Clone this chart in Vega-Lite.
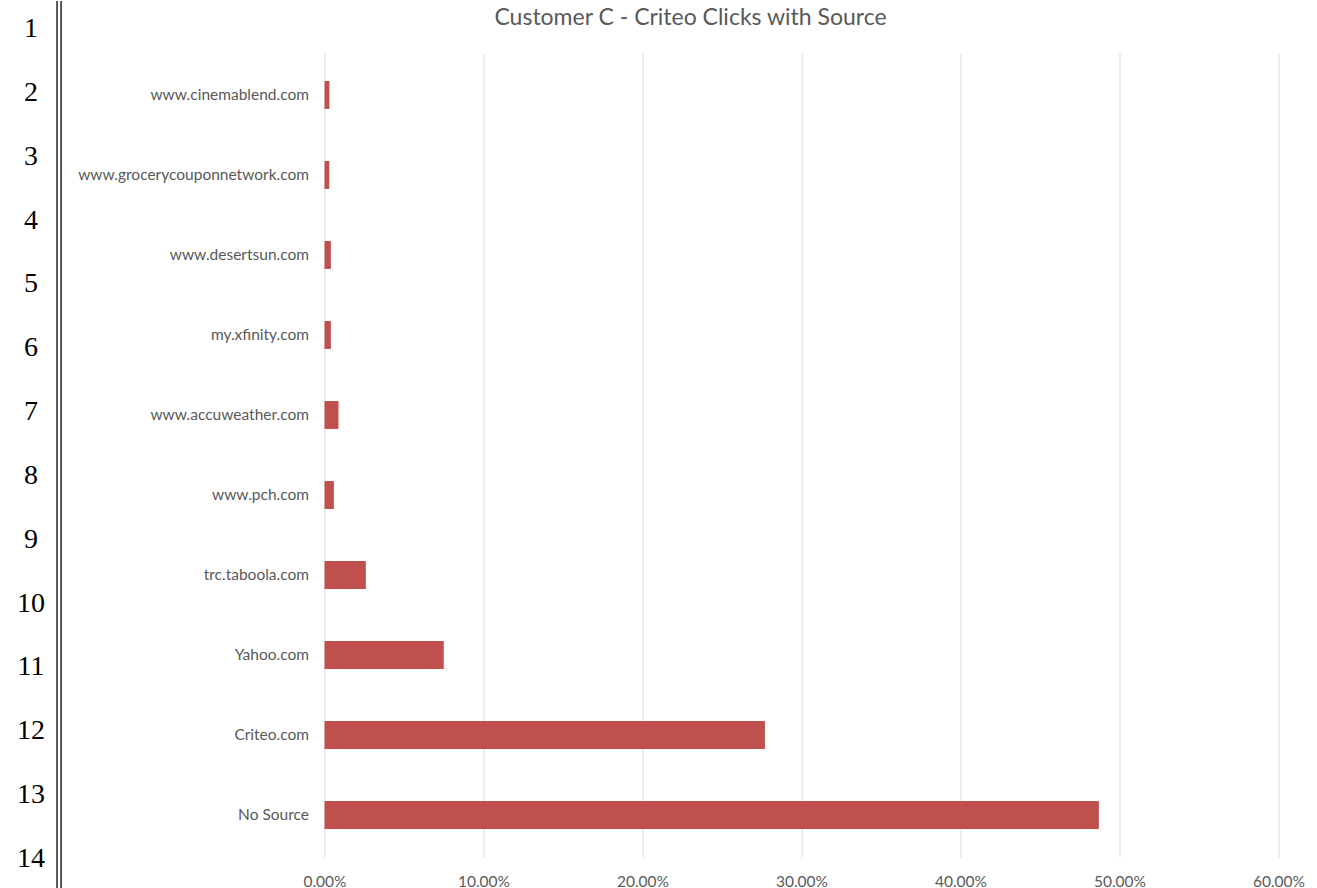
{
  "$schema": "https://vega.github.io/schema/vega-lite/v6.json",
  "padding": 0,
  "background": "white",
  "spacing": 262.5,
  "bounds": "flush",
  "config": {"view": {"stroke": null}, "font": "Lato"},
  "hconcat": [
    {
      "width": 62,
      "height": 804,
      "layer": [
        {
          "data": {"values": [{"row": 1}, {"row": 2}, {"row": 3}, {"row": 4}, {"row": 5}, {"row": 6}, {"row": 7}, {"row": 8}, {"row": 9}, {"row": 10}, {"row": 11}, {"row": 12}, {"row": 13}, {"row": 14}]},
          "mark": {"type": "text", "font": "Liberation Serif", "fontSize": 28, "color": "black", "baseline": "middle", "align": "center"},
          "encoding": {
            "y": {"field": "row", "type": "quantitative", "scale": {"domain": [1.376, 13.968], "reverse": true, "nice": false, "zero": false}, "axis": null},
            "text": {"field": "row", "type": "nominal"}
          }
        },
        {
          "data": {"values": [{}]},
          "mark": {"type": "rule", "color": "black", "strokeWidth": 1.3},
          "encoding": {
            "x": {"datum": 0.92, "type": "quantitative", "scale": {"domain": [0, 1], "nice": false, "zero": false}, "axis": null},
            "y": {"datum": 0.5615, "type": "quantitative"},
            "y2": {"datum": 14.469}
          }
        },
        {
          "data": {"values": [{}]},
          "mark": {"type": "rule", "color": "black", "strokeWidth": 1.3},
          "encoding": {
            "x": {"datum": 0.985, "type": "quantitative"},
            "y": {"datum": 0.5615, "type": "quantitative"},
            "y2": {"datum": 14.469}
          }
        }
      ]
    },
    {
      "width": 954,
      "height": 804,
      "title": {"text": "Customer C - Criteo Clicks with Source", "fontSize": 23, "font": "Lato", "color": "#595959", "fontWeight": "normal", "anchor": "middle", "baseline": "alphabetic", "offset": 5, "dx": -111},
      "data": {"values": [
        {"source": "www.cinemablend.com", "share": 0.0031},
        {"source": "www.grocerycouponnetwork.com", "share": 0.003},
        {"source": "www.desertsun.com", "share": 0.004},
        {"source": "my.xfinity.com", "share": 0.004},
        {"source": "www.accuweather.com", "share": 0.0088},
        {"source": "www.pch.com", "share": 0.0059},
        {"source": "trc.taboola.com", "share": 0.026},
        {"source": "Yahoo.com", "share": 0.075},
        {"source": "Criteo.com", "share": 0.277},
        {"source": "No Source", "share": 0.487}
      ]},
      "mark": {"type": "bar", "color": "#C0504D"},
      "encoding": {
        "y": {"field": "source", "type": "nominal", "sort": null,
          "scale": {"paddingInner": 0.651, "paddingOuter": 0.35},
          "axis": {"title": null, "ticks": false, "domain": false, "labelFontSize": 15.5, "labelColor": "#595959", "labelPadding": 16, "labelFont": "Lato", "labelLimit": 0}},
        "x": {"field": "share", "type": "quantitative",
          "scale": {"domain": [0, 0.6], "nice": false},
          "axis": {"title": null, "format": ".2%", "values": [0, 0.1, 0.2, 0.3, 0.4, 0.5, 0.6], "grid": true, "gridColor": "#d9d9d9", "gridWidth": 1, "ticks": false, "domain": false, "labelFlush": false, "labelFontSize": 15.5, "labelColor": "#595959", "labelPadding": 17, "labelFont": "Lato"}}
      }
    }
  ]
}
